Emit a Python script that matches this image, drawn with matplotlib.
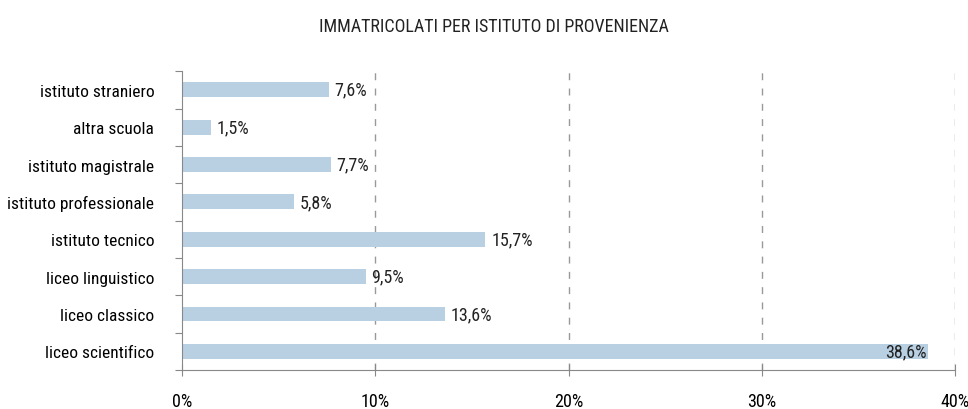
import matplotlib.pyplot as plt

plt.rcParams['font.family'] = ['Roboto Condensed', 'DejaVu Sans']

categories = ['liceo scientifico', 'liceo classico', 'liceo linguistico', 'istituto tecnico',
              'istituto professionale', 'istituto magistrale', 'altra scuola', 'istituto straniero']
values = [38.6, 13.6, 9.5, 15.7, 5.8, 7.7, 1.5, 7.6]
value_labels = ['38,6%', '13,6%', '9,5%', '15,7%', '5,8%', '7,7%', '1,5%', '7,6%']
x_ticks = [0, 10, 20, 30, 40]
x_ticklabels = ['0%', '10%', '20%', '30%', '40%']

fig = plt.figure(figsize=(9.68, 4.10), dpi=100)
ax = fig.add_axes([0.188, 0.095, 0.7986, 0.729])

pos = list(range(len(categories)))
ax.barh(pos, values, height=0.4, color='#b9d0e3', zorder=2)

for p, v, lab in zip(pos, values, value_labels):
    if v > 35:
        ax.text(v - 0.05, p, lab, ha='right', va='center', fontsize=13, color='#222222', zorder=3)
    else:
        ax.text(v + 0.3, p, lab, ha='left', va='center', fontsize=13, color='#222222', zorder=3)

ax.set_xlim(0, 40)
ax.set_ylim(-0.5, 7.5)
ax.set_xticks(x_ticks)
ax.set_xticklabels(x_ticklabels, fontsize=13)
ax.set_yticks([p - 0.5 for p in pos] + [7.5])
ax.set_yticklabels([])
ax.set_yticks(pos, minor=True)
ax.set_yticklabels(categories, minor=True, fontsize=12.5)
ax.tick_params(axis='y', which='minor', length=0, pad=20)
ax.tick_params(axis='y', which='major', length=5, direction='out', color='#888888')
ax.tick_params(axis='x', length=8, direction='inout', color='#888888', pad=12)

for x in x_ticks[1:]:
    ax.axvline(x, color='#999999', linestyle=(0, (5, 6)), linewidth=1, zorder=1)

for s in ['top', 'right']:
    ax.spines[s].set_visible(False)
for s in ['left', 'bottom']:
    ax.spines[s].set_color('#888888')

fig.text(0.51, 0.935, 'IMMATRICOLATI PER ISTITUTO DI PROVENIENZA', ha='center', va='center',
         fontsize=13, color='#222222')

fig.savefig('out.png', dpi=100)
